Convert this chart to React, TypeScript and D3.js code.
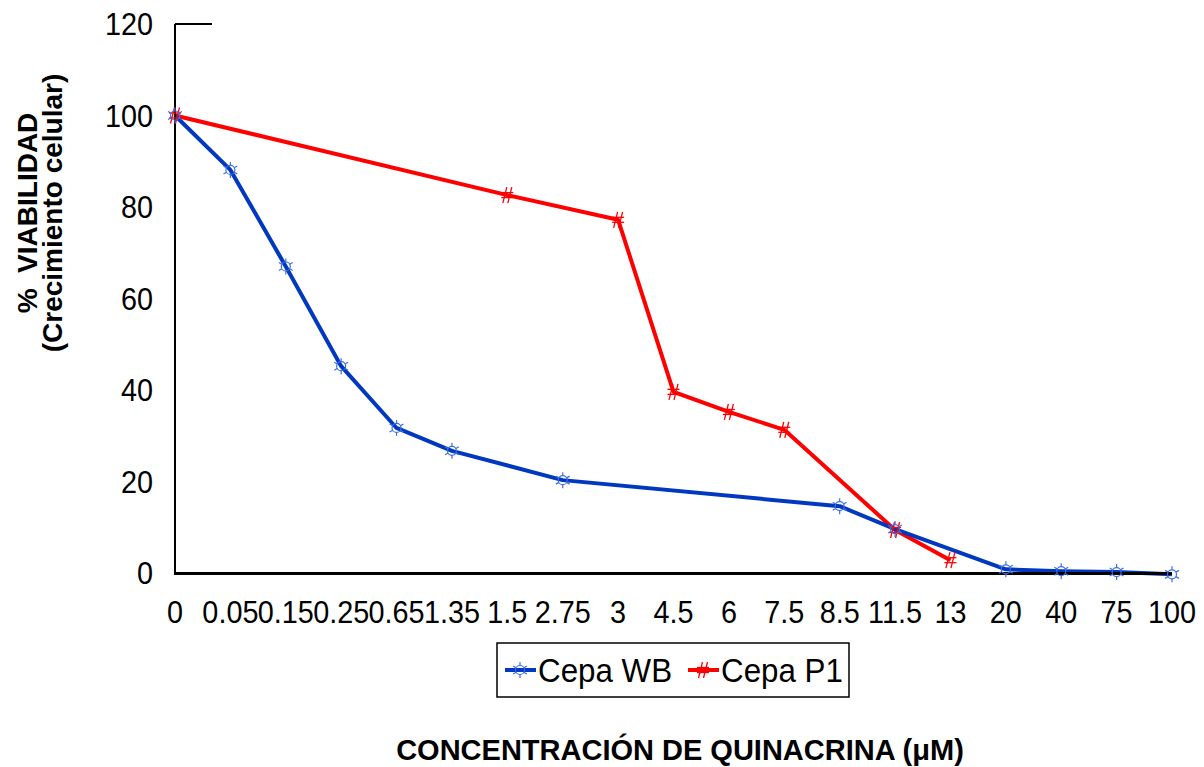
import React from "react";
import * as d3 from "d3";

// Concentration categories (µM), evenly spaced on the x axis
const concentrations = ["0", "0.05", "0.15", "0.25", "0.65", "1.35", "1.5", "2.75", "3", "4.5", "6", "7.5", "8.5", "11.5", "13", "20", "40", "75", "100"];

// % viability per strain (null = not measured at that concentration)
const cepaWB: (number | null)[] = [100, 88.1, 67, 45.2, 31.7, 26.7, null, 20.3, null, null, null, null, 14.6, 9.6, null, 0.8, 0.4, 0.2, -0.3];
const cepaP1: (number | null)[] = [100, null, null, null, null, null, 82.6, null, 77.2, 39.6, 35.2, 31.3, null, 9.4, 2.8, null, null, null, null];

const yTicks = [0, 20, 40, 60, 80, 100, 120];

const W = 1204;
const H = 767;
const FONT = "'Liberation Sans', Arial, sans-serif";
const BLUE = "#0038c0";
const BLUE_MARK = "#3f6fe0";
const RED = "#ff0000";

const x = d3.scalePoint<string>().domain(concentrations).range([175, 1172]).padding(0);
const y = d3.scaleLinear().domain([0, 120]).range([573, 24]);

type Pt = { c: string; v: number };
const toPts = (vals: (number | null)[]): Pt[] =>
  concentrations.map((c, i) => ({ c, v: vals[i] })).filter((d) => d.v !== null) as Pt[];

const line = d3
  .line<Pt>()
  .x((d) => x(d.c)!)
  .y((d) => y(d.v));

function StarMarker({ cx, cy }: { cx: number; cy: number }) {
  const spikes = d3.range(6).map((k) => {
    const a = (Math.PI / 3) * k - Math.PI / 2;
    return (
      <line
        key={k}
        x1={cx + Math.cos(a) * 4.5}
        y1={cy + Math.sin(a) * 4.5}
        x2={cx + Math.cos(a) * 8}
        y2={cy + Math.sin(a) * 8}
        stroke={BLUE_MARK}
        strokeWidth={1.2}
      />
    );
  });
  return (
    <g>
      <circle cx={cx} cy={cy} r={4.5} fill="none" stroke={BLUE_MARK} strokeWidth={1.2} />
      {spikes}
    </g>
  );
}

function HashMarker({ cx, cy }: { cx: number; cy: number }) {
  return (
    <g stroke={RED} strokeWidth={1.3} fill="none">
      <line x1={cx - 4.5} y1={cy + 8} x2={cx - 0.5} y2={cy - 8} />
      <line x1={cx + 0.5} y1={cy + 8} x2={cx + 4.5} y2={cy - 8} />
      <line x1={cx - 6} y1={cy - 2.5} x2={cx + 6} y2={cy - 2.5} />
      <line x1={cx - 6} y1={cy + 2.5} x2={cx + 6} y2={cy + 2.5} />
    </g>
  );
}

function CText({ x: tx, y: ty, anchor, size = 32, sx = 0.9, children }: { x: number; y: number; anchor: string; size?: number; sx?: number; children: React.ReactNode }) {
  return (
    <text
      transform={`translate(${tx},${ty}) scale(${sx},1)`}
      textAnchor={anchor}
      fontFamily={FONT}
      fontSize={size}
      fill="#000"
    >
      {children}
    </text>
  );
}

export default function App() {
  const wb = toPts(cepaWB);
  const p1 = toPts(cepaP1);
  return (
    <svg width={W} height={H} style={{ display: "block", position: "absolute", left: 0, top: 0 }}>
      <rect width={W} height={H} fill="#fff" />

      {/* y axis labels */}
      {yTicks.map((t) => (
        <CText key={t} x={153} y={y(t) + 11} anchor="end">
          {t}
        </CText>
      ))}

      {/* x axis labels */}
      {concentrations.map((c) => (
        <CText key={c} x={x(c)!} y={623} anchor="middle">
          {c}
        </CText>
      ))}

      {/* series lines */}
      <path d={line(p1)!} fill="none" stroke={RED} strokeWidth={4} strokeLinejoin="round" />
      <path d={line(wb)!} fill="none" stroke={BLUE} strokeWidth={4} strokeLinejoin="round" />

      {/* axes */}
      <line x1={175} y1={y(120)} x2={175} y2={y(0)} stroke="#000" strokeWidth={2} />
      <line x1={175} y1={y(120)} x2={212} y2={y(120)} stroke="#000" strokeWidth={2} />
      <line x1={174} y1={y(0) + 0.5} x2={x("100")!} y2={y(0) + 0.5} stroke="#000" strokeWidth={3} />

      {/* markers */}
      {p1.map((d) => (
        <HashMarker key={"p" + d.c} cx={x(d.c)!} cy={y(d.v)} />
      ))}
      {wb.map((d) => (
        <StarMarker key={"w" + d.c} cx={x(d.c)!} cy={y(d.v)} />
      ))}

      {/* y axis title */}
      <g transform="translate(43,213) rotate(-90)" fontFamily={FONT} fontWeight="bold" fontSize={28} textAnchor="middle">
        <text x={0} y={-6} xmlSpace="preserve">%  VIABILIDAD</text>
        <text x={0} y={19}>(Crecimiento celular)</text>
      </g>

      {/* legend */}
      <rect x={497} y={643} width={352} height={54} fill="#fff" stroke="#000" strokeWidth={1.5} />
      <line x1={505} y1={670} x2={536} y2={670} stroke={BLUE} strokeWidth={4} />
      <StarMarker cx={520} cy={670} />
      <CText x={538} y={682} anchor="start" size={33} sx={0.95}>Cepa WB</CText>
      <line x1={688} y1={670} x2={719} y2={670} stroke={RED} strokeWidth={4} />
      <HashMarker cx={703} cy={670} />
      <CText x={721} y={682} anchor="start" size={33} sx={0.95}>Cepa P1</CText>

      {/* x axis title */}
      <text x={680} y={760} textAnchor="middle" fontFamily={FONT} fontWeight="bold" fontSize={29}>
        CONCENTRACIÓN DE QUINACRINA (μM)
      </text>
    </svg>
  );
}
